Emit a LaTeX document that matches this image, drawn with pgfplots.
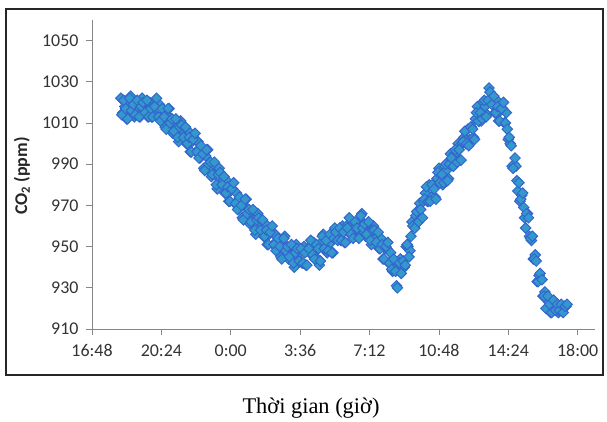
\documentclass[border=0pt]{standalone}
\usepackage{fontspec}
\setmainfont{Liberation Serif}
\newfontfamily\calibri{Carlito}
\usepackage{pgfplots}
\usepackage{pgfplotstable}
\pgfplotsset{compat=1.18}

\definecolor{markfill}{HTML}{3399CC}
\definecolor{markedge}{HTML}{3366CC}
\definecolor{axisgray}{HTML}{868686}

% time in hours since 0:00 of the first day, CO2 in ppm
\pgfplotstableread{
h y
18.3 1022
18.4 1015
18.5 1018
18.6 1012
18.7 1019
18.8 1023
18.9 1015
19.0 1013
19.1 1020
19.2 1017
19.3 1013
19.4 1022
19.5 1016
19.6 1019
19.7 1013
19.8 1020
19.9 1013
20.0 1017
20.1 1019
20.2 1013
20.3 1019
20.4 1011
20.5 1014
20.6 1008
20.7 1014
20.8 1017
20.9 1008
21.0 1005
21.1 1011
21.2 1008
21.3 1001
21.4 1011
21.5 1004
21.6 1006
21.7 1000
21.8 1006
21.9 996
22.0 1001
22.1 1002
22.2 996
22.3 1001
22.4 993
22.5 996
22.6 988
22.7 994
22.8 997
22.9 987
23.0 984
23.1 990
23.2 985
23.3 978
23.4 988
23.5 981
23.6 982
23.7 976
23.8 982
23.9 972
24.0 977
24.1 978
24.2 971
24.3 976
24.4 968
24.5 971
24.6 964
24.7 970
24.8 973
24.9 964
25.0 961
25.1 967
25.2 963
25.3 956
25.4 966
25.5 959
25.6 961
25.7 955
25.8 961
25.9 951
26.0 956
26.1 957
26.2 951
26.3 956
26.4 948
26.5 951
26.6 945
26.7 951
26.8 955
26.9 946
27.0 944
27.1 950
27.2 947
27.3 940
27.4 951
27.5 944
27.6 947
27.7 942
27.8 950
27.9 941
28.0 948
28.1 950
28.2 946
28.3 952
28.4 945
28.5 950
28.6 941
28.7 952
28.8 956
28.9 949
29.0 947
29.1 955
29.2 952
29.3 947
29.4 959
29.5 954
29.6 957
29.7 953
29.8 960
29.9 952
30.0 958
30.1 961
30.2 956
30.3 962
30.4 956
30.5 960
30.6 955
30.7 962
30.8 966
30.9 957
31.0 955
31.1 961
31.2 958
31.3 951
31.4 960
31.5 953
31.6 955
31.7 949
31.8 954
31.9 944
32.0 949
32.1 949
32.2 942
32.3 947
32.4 938
32.5 939
32.6 931
32.7 939
32.8 944
32.9 939
33.0 940
33.1 950
33.2 950
33.3 948
33.4 962
33.5 960
33.6 965
33.7 962
33.8 971
33.9 964
34.0 972
34.1 976
34.2 972
34.3 980
34.4 974
34.5 979
34.6 974
34.7 983
34.8 988
34.9 981
35.0 980
35.1 989
35.2 987
35.3 983
35.4 995
35.5 990
35.6 995
35.7 991
35.8 1000
35.9 992
36.0 1000
36.1 1003
36.2 1000
36.3 1007
36.4 1002
36.5 1008
36.6 1003
36.7 1012
36.8 1018
36.9 1011
37.0 1011
37.1 1020
37.2 1018
37.3 1014
37.4 1027
37.5 1020
37.6 1021
37.7 1015
37.8 1021
37.9 1011
38.0 1016
38.1 1017
38.2 1010
38.3 1015
38.4 1002
38.5 1000
38.6 989
38.7 990
38.8 989
38.9 977
39.0 972
39.1 975
39.2 969
39.3 959
39.4 966
39.5 955
39.6 953
39.7 944
39.8 946
39.9 933
40.0 936
40.1 934
40.2 926
40.3 928
40.4 920
40.5 923
40.6 918
40.7 923
40.8 922
40.9 919
41.0 918
41.1 921
41.2 919
41.3 921
41.4 921
}\codataA

\pgfplotstableread{
h y
18.35 1014
18.45 1021
18.55 1017
18.65 1012
18.75 1022
18.85 1016
18.95 1019
19.05 1014
19.15 1021
19.25 1013
19.35 1018
19.45 1020
19.55 1015
19.65 1021
19.75 1013
19.85 1017
19.95 1013
20.05 1018
20.15 1022
20.25 1013
20.35 1011
20.45 1017
20.55 1013
20.65 1007
20.75 1017
20.85 1010
20.95 1012
21.05 1006
21.15 1012
21.25 1003
21.35 1008
21.45 1009
21.55 1003
21.65 1008
21.75 1000
21.85 1003
21.95 996
22.05 1002
22.15 1005
22.25 996
22.35 993
22.45 999
22.55 995
22.65 987
22.75 997
22.85 990
22.95 991
23.05 985
23.15 991
23.25 980
23.35 985
23.45 986
23.55 980
23.65 984
23.75 976
23.85 979
23.95 972
24.05 978
24.15 981
24.25 971
24.35 968
24.45 974
24.55 970
24.65 963
24.75 973
24.85 966
24.95 968
25.05 962
25.15 968
25.25 958
25.35 963
25.45 964
25.55 958
25.65 963
25.75 955
25.85 958
25.95 951
26.05 957
26.15 960
26.25 951
26.35 948
26.45 954
26.55 950
26.65 944
26.75 954
26.85 948
26.95 950
27.05 945
27.15 951
27.25 942
27.35 947
27.45 949
27.55 943
27.65 949
27.75 942
27.85 947
27.95 941
28.05 949
28.15 953
28.25 946
28.35 944
28.45 951
28.55 949
28.65 943
28.75 955
28.85 949
28.95 953
29.05 948
29.15 956
29.25 947
29.35 954
29.45 957
29.55 953
29.65 959
29.75 953
29.85 957
29.95 952
30.05 959
30.15 964
30.25 956
30.35 954
30.45 962
30.55 959
30.65 954
30.75 965
30.85 959
30.95 961
31.05 956
31.15 962
31.25 953
31.35 958
31.45 958
31.55 952
31.65 957
31.75 949
31.85 951
31.95 944
32.05 950
32.15 952
32.25 942
32.35 939
32.45 944
32.55 938
32.65 930
32.75 942
32.85 937
32.95 943
33.05 941
33.15 951
33.25 945
33.35 955
33.45 960
33.55 959
33.65 967
33.75 962
33.85 968
33.95 964
34.05 973
34.15 979
34.25 972
34.35 972
34.45 980
34.55 978
34.65 973
34.75 986
34.85 981
34.95 985
35.05 981
35.15 990
35.25 982
35.35 990
35.45 993
35.55 989
35.65 997
35.75 991
35.85 997
35.95 992
36.05 1001
36.15 1006
36.25 1000
36.35 999
36.45 1008
36.55 1007
36.65 1002
36.75 1015
36.85 1011
36.95 1015
37.05 1012
37.15 1021
37.25 1013
37.35 1021
37.45 1025
37.55 1019
37.65 1023
37.75 1015
37.85 1018
37.95 1011
38.05 1017
38.15 1020
38.25 1010
38.35 1007
38.45 1003
38.55 999
38.65 988
38.75 993
38.85 982
38.95 981
39.05 973
39.15 976
39.25 964
39.35 966
39.45 964
39.55 954
39.65 955
39.75 944
39.85 943
39.95 933
40.05 937
40.15 934
40.25 926
40.35 920
40.45 926
40.55 922
40.65 918
40.75 924
40.85 919
40.95 922
41.05 919
41.15 922
41.25 918
41.35 921
41.45 922
}\codataB

\begin{document}
\begin{tikzpicture}
\begin{axis}[
  at={(0,0)}, anchor=south west,
  scale only axis, width=503bp, height=309bp,
  xmin=16.8, xmax=42.9, ymin=910, ymax=1060,
  axis lines*=left,
  axis line style={draw=axisgray, line width=0.8bp, -},
  xtick={16.8,20.4,24,27.6,31.2,34.8,38.4,42},
  xticklabels={16:48,20:24,0:00,3:36,7:12,10:48,14:24,18:00},
  ytick={910,930,...,1050},
  tick align=outside, major tick length=6bp,
  tick style={draw=axisgray, line width=0.8bp},
  ticklabel style={font=\calibri\fontsize{18}{20}\selectfont, text=black!80},
  /pgf/number format/assume math mode=true,
  /pgf/number format/1000 sep={},
  yticklabel style={xshift=-4bp},
  xticklabel style={yshift=-6bp},
  clip=false,
  co2/.style={only marks, mark=square*, mark size=3.7bp,
    mark options={rotate=45, fill=markfill, draw=markedge, line width=1bp}},
]
\addplot[co2] table[x=h, y=y] {\codataA};
\addplot[co2] table[x=h, y=y] {\codataB};
\end{axis}
\draw[line width=1.2bp, black!85] (-86bp,-46bp) rectangle (511bp,320bp);
\node[rotate=90, font=\calibri\bfseries\fontsize{18}{20}\selectfont, text=black!85]
  at (-70bp,153bp) {CO\textsubscript{2} (ppm)};
\node[font=\fontsize{22.5}{24}\selectfont] at (219bp,-79bp) {Thời gian (giờ)};
\path[use as bounding box] (-92bp,-93bp) rectangle (515bp,329bp);
\end{tikzpicture}
\end{document}
